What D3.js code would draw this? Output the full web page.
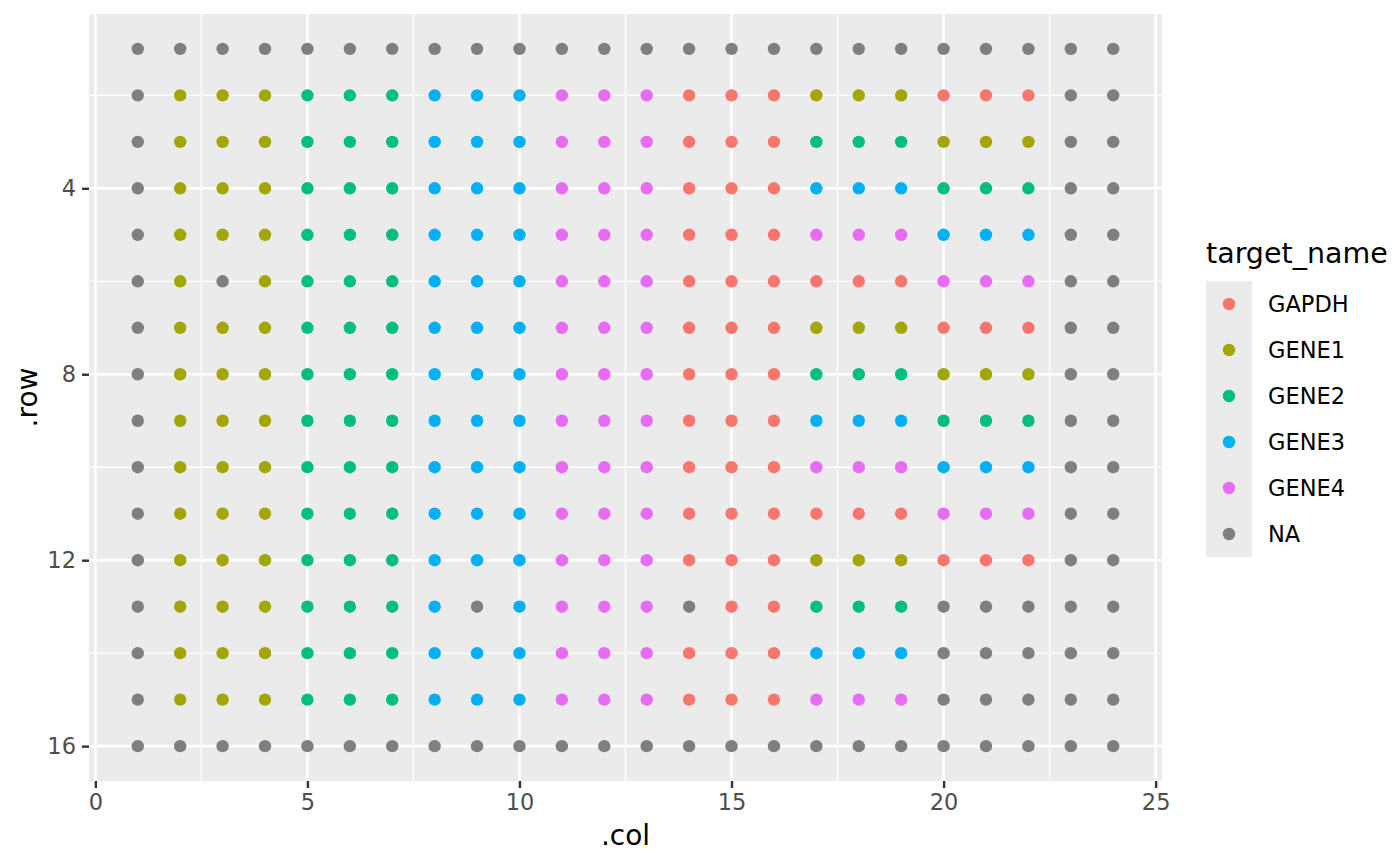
<!DOCTYPE html>
<html><head><meta charset="utf-8">
<script src="https://cdn.jsdelivr.net/npm/d3@7"></script>
<style>body{margin:0;background:#fff}svg{display:block}text{font-family:"DejaVu Sans",sans-serif}</style>
</head><body><svg id="c" width="1400" height="866"></svg>
<script>
// ---- data ----
const legendLabels = ["GAPDH", "GENE1", "GENE2", "GENE3", "GENE4", "NA"];
const legendColors = ["#F8766D", "#A3A500", "#00BF7D", "#00B0F6", "#E76BF3", "#7F7F7F"];
// well codes: A = GAPDH, 1..4 = GENE1..GENE4, N = NA
const wellCodes = { A: "GAPDH", "1": "GENE1", "2": "GENE2", "3": "GENE3", "4": "GENE4", N: "NA" };
const plateRows = [
  "NNNNNNNNNNNNNNNNNNNNNNNN",
  "N111222333444AAA111AAANN",
  "N111222333444AAA222111NN",
  "N111222333444AAA333222NN",
  "N111222333444AAA444333NN",
  "N1N1222333444AAAAAA444NN",
  "N111222333444AAA111AAANN",
  "N111222333444AAA222111NN",
  "N111222333444AAA333222NN",
  "N111222333444AAA444333NN",
  "N111222333444AAAAAA444NN",
  "N111222333444AAA111AAANN",
  "N1112223N3444NAA222NNNNN",
  "N111222333444AAA333NNNNN",
  "N111222333444AAA444NNNNN",
  "NNNNNNNNNNNNNNNNNNNNNNNN"
];
const xTicks = [0, 5, 10, 15, 20, 25];
const xMinor = [2.5, 7.5, 12.5, 17.5, 22.5];
const yTicks = [4, 8, 12, 16];
const yMinor = [2, 6, 10, 14];

// ---- build wells ----
const wells = [];
plateRows.forEach((s, i) => {
  s.split("").forEach((ch, j) => wells.push({ row: i + 1, col: j + 1, target: wellCodes[ch] }));
});

const svg = d3.select("#c");
const P = { l: 89, r: 1162, t: 14, b: 781 };
const x = d3.scaleLinear().domain([-0.15, 25.15]).range([P.l, P.r]);
const y = d3.scaleLinear().domain([0.25, 16.75]).range([P.t, P.b]);
const color = d3.scaleOrdinal().domain(legendLabels).range(legendColors);

// panel
svg.append("rect").attr("x", P.l).attr("y", P.t).attr("width", P.r - P.l).attr("height", P.b - P.t).attr("fill", "#EBEBEB");
const g = svg.append("g");
g.selectAll(".vmin").data(xMinor).join("line").attr("x1", d => x(d)).attr("x2", d => x(d)).attr("y1", P.t).attr("y2", P.b).attr("stroke", "#fff").attr("stroke-width", 1.3);
g.selectAll(".hmin").data(yMinor).join("line").attr("y1", d => y(d)).attr("y2", d => y(d)).attr("x1", P.l).attr("x2", P.r).attr("stroke", "#fff").attr("stroke-width", 1.3);
g.selectAll(".vmaj").data(xTicks).join("line").attr("x1", d => x(d)).attr("x2", d => x(d)).attr("y1", P.t).attr("y2", P.b).attr("stroke", "#fff").attr("stroke-width", 2.6);
g.selectAll(".hmaj").data(yTicks).join("line").attr("y1", d => y(d)).attr("y2", d => y(d)).attr("x1", P.l).attr("x2", P.r).attr("stroke", "#fff").attr("stroke-width", 2.6);

// points
svg.append("g").selectAll("circle").data(wells).join("circle")
  .attr("cx", d => x(d.col)).attr("cy", d => y(d.row)).attr("r", 6.2)
  .attr("fill", d => color(d.target));

// axes
const xa = svg.append("g").attr("transform", `translate(0,${P.b})`)
  .call(d3.axisBottom(x).tickValues(xTicks).tickSize(7).tickPadding(6).tickFormat(d3.format("d")));
const ya = svg.append("g").attr("transform", `translate(${P.l},0)`)
  .call(d3.axisLeft(y).tickValues(yTicks).tickSize(7).tickPadding(6).tickFormat(d3.format("d")));
[xa, ya].forEach(a => {
  a.select(".domain").remove();
  a.selectAll(".tick line").attr("stroke", "#333333").attr("stroke-width", 2.4);
  a.selectAll(".tick text").attr("fill", "#4D4D4D").style("font-size", "22.5px").style("font-family", "DejaVu Sans");
});

// axis titles
svg.append("text").attr("x", (P.l + P.r) / 2).attr("y", 845).attr("text-anchor", "middle")
  .style("font-size", "28px").attr("fill", "#000").text(".col");
svg.append("text").attr("transform", `translate(37,${(P.t + P.b) / 2}) rotate(-90)`).attr("text-anchor", "middle")
  .style("font-size", "28px").attr("fill", "#000").text(".row");

// legend
const L = { x: 1206, y: 281, key: 46 };
svg.append("text").attr("x", 1206).attr("y", 263).style("font-size", "28.5px").attr("fill", "#000").text("target_name");
const lg = svg.append("g").selectAll("g").data(legendLabels).join("g")
  .attr("transform", (d, i) => `translate(${L.x},${L.y + i * L.key})`);
lg.append("rect").attr("width", L.key).attr("height", L.key).attr("fill", "#EBEBEB");
lg.append("circle").attr("cx", L.key / 2).attr("cy", L.key / 2).attr("r", 6.2).attr("fill", d => color(d));
lg.append("text").attr("x", 62).attr("y", L.key / 2).attr("dy", "0.36em").style("font-size", "22.5px").attr("fill", "#000").text(d => d);
</script></body></html>
